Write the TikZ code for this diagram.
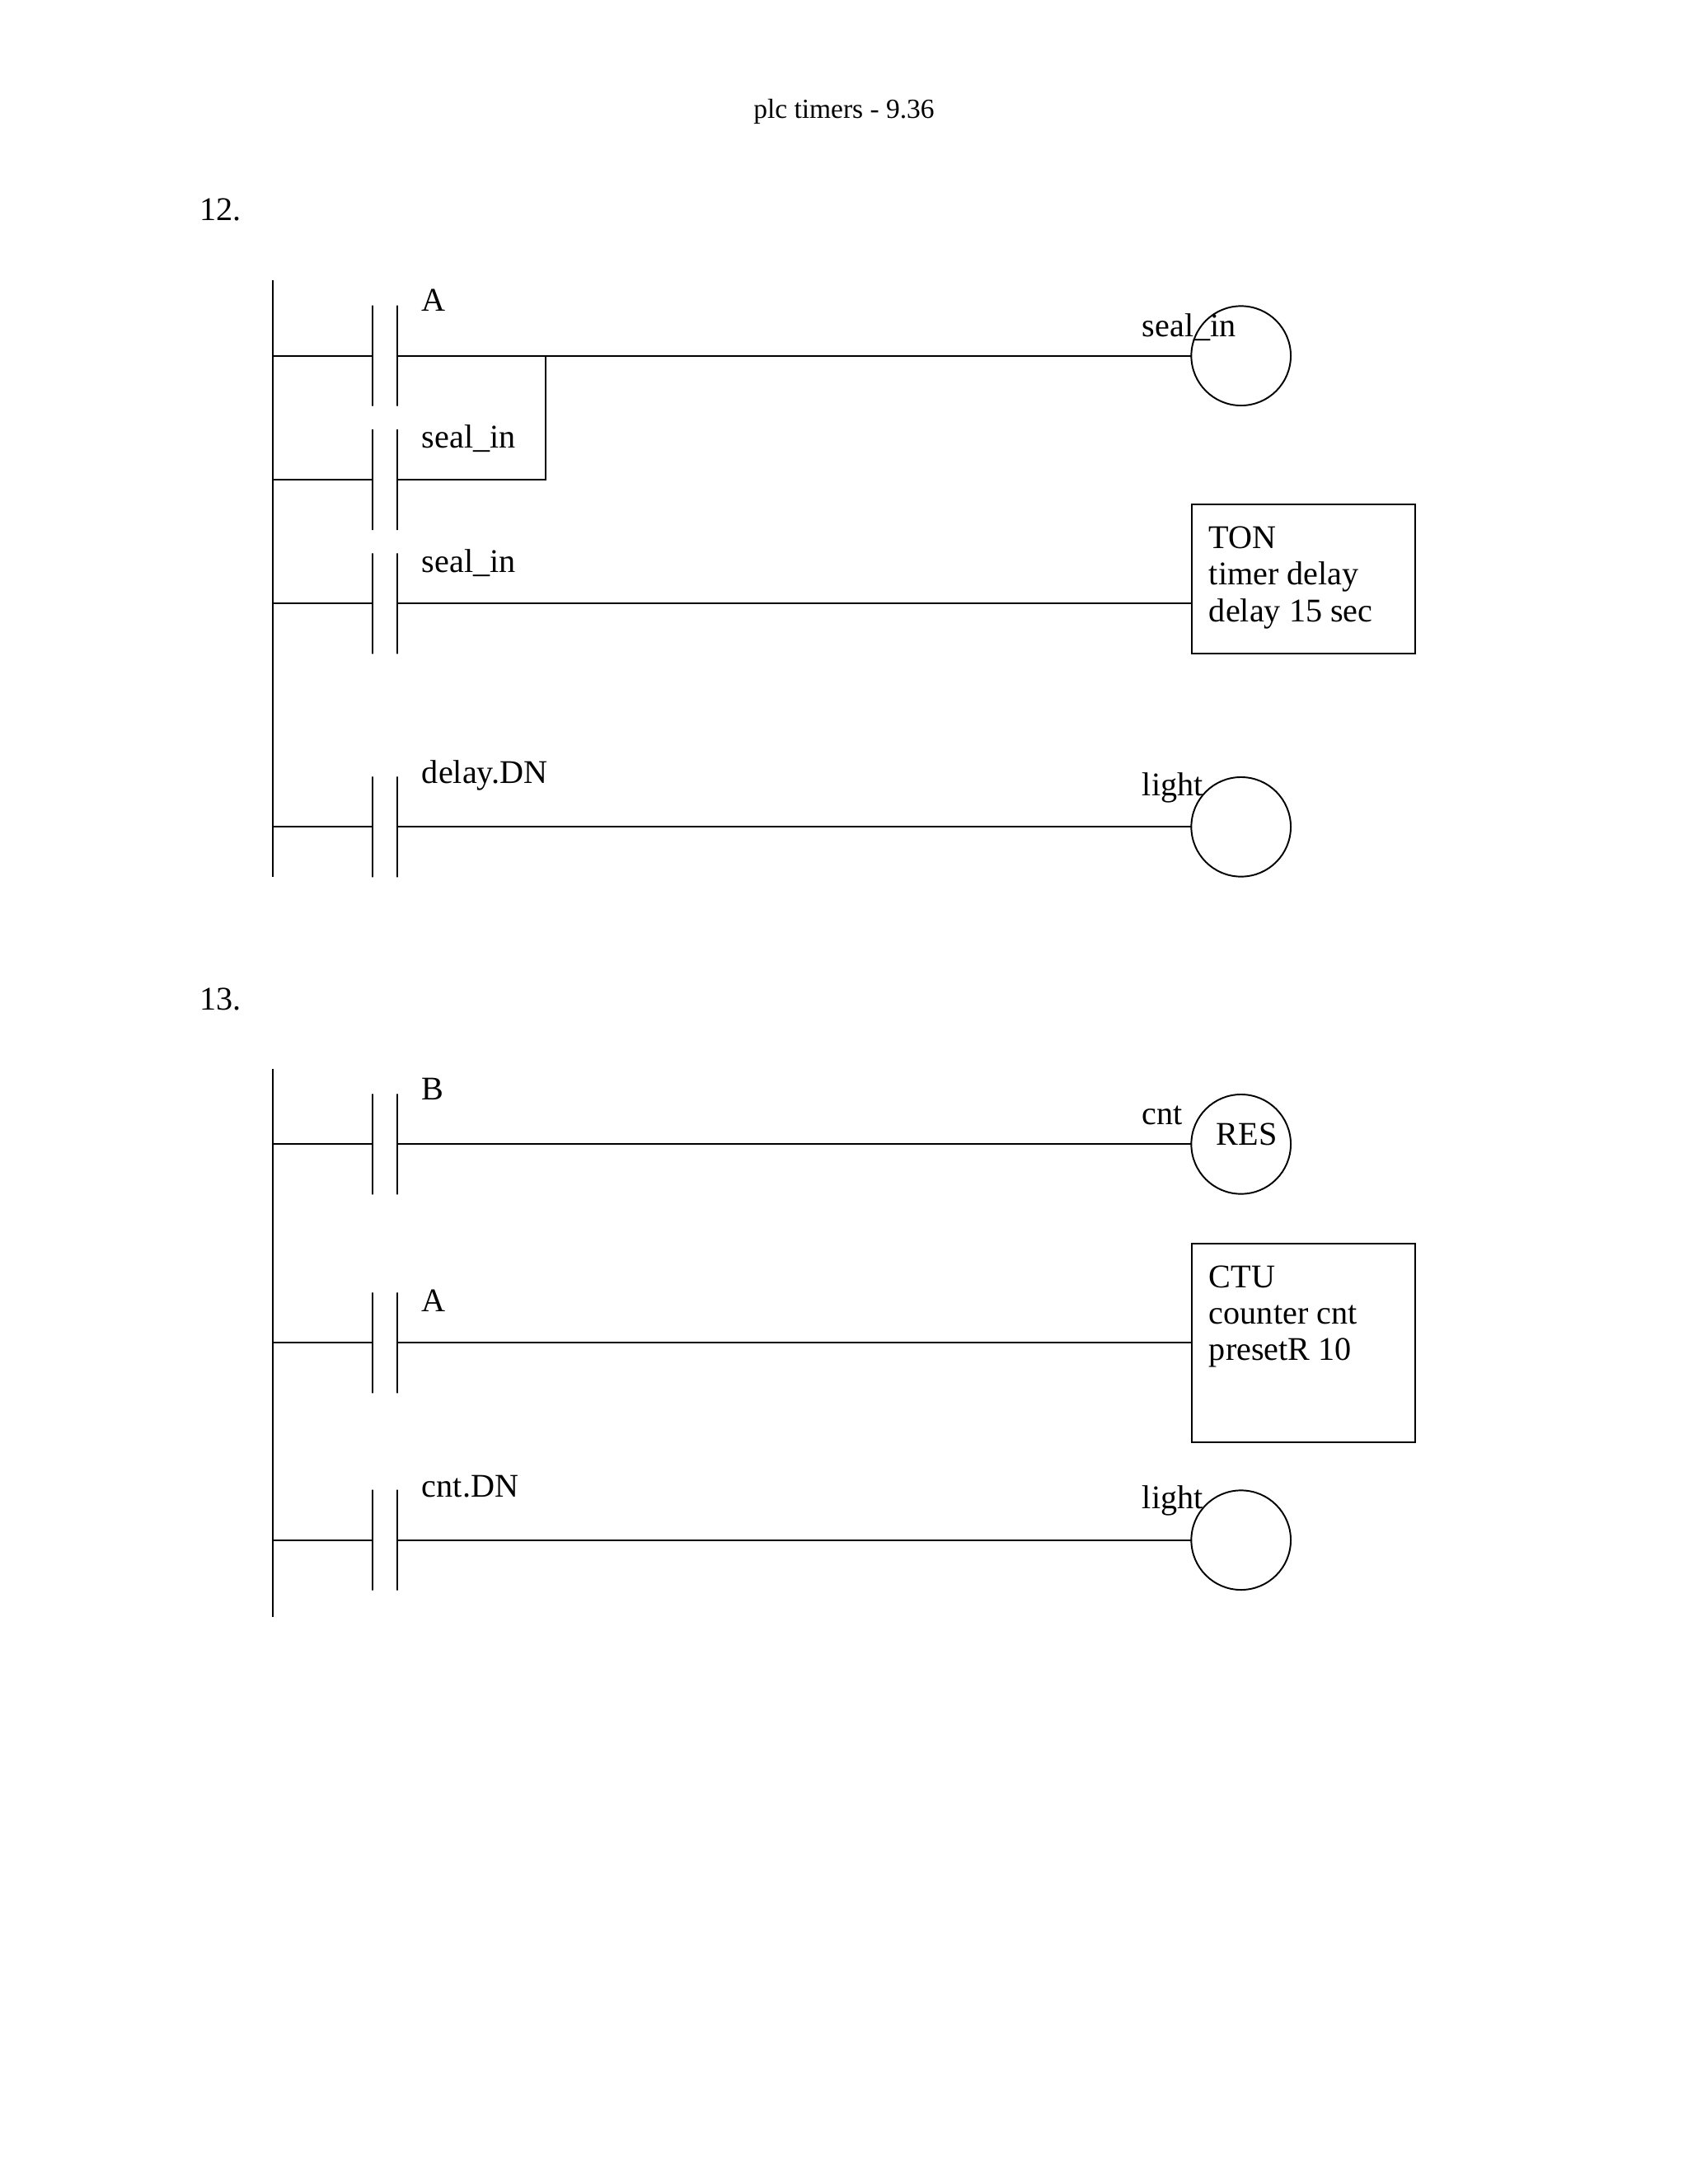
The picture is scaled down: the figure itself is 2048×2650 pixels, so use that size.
\documentclass[tikz,border=0pt]{standalone}
\usepackage{fontspec}
\setmainfont{Liberation Serif}
\usetikzlibrary{positioning}

\tikzset{
  plate/.style={draw,inner sep=0pt,outer sep=0pt,minimum width=0pt,minimum height=36.6pt},
  coil/.style={draw,circle,inner sep=0pt,outer sep=0pt,minimum size=36.2pt},
  block/.style={draw,rectangle,anchor=north west,inner sep=0pt,outer sep=0pt,minimum width=81.3pt},
  tag/.style={anchor=base west,inner sep=0pt,font=\fontsize{12.05}{13.3}\selectfont},
  blocktext/.style={anchor=north west,inner sep=0pt,align=left,font=\fontsize{12.05}{13.3}\selectfont}
}

\begin{document}
\begin{tikzpicture}[x=0.3pt,y=-0.3pt,node distance=9pt,on grid,line width=0.58pt]
    \useasboundingbox (0,0) rectangle (2048,2650);

    \node[anchor=base,inner sep=0pt,font=\fontsize{10.04}{12}\selectfont] (title) at (1024,143) {plc timers - 9.36};
    \node[tag] (q_12) at (241.5,267.3) {12.};
    \node[tag] (q_13) at (241.5,1225) {13.};

    % question 12
    \coordinate (rail_a_top) at (331.2,340);
    \coordinate (rail_a_bot) at (331.2,1064.3);
    \node[plate] (a_l) at (452,431.7) {};
    \node[plate] (a_r) [right=of a_l] {};
    \node[plate] (seal_l) at (452,582) {};
    \node[plate] (seal_r) [right=of seal_l] {};
    \node[plate] (sealb_l) at (452,732.3) {};
    \node[plate] (sealb_r) [right=of sealb_l] {};
    \node[plate] (dn_l) at (452,1003.3) {};
    \node[plate] (dn_r) [right=of dn_l] {};
    \node[coil] (seal_coil) at (1505.7,431.7) {};
    \node[block,minimum height=54.3pt] (ton) at (1445.7,612) {};
    \node[coil] (light_a) at (1505.7,1003.3) {};
    \coordinate (join) at (662.3,431.7);

    \node[tag] (a_tag) at (511,377.3) {A};
    \node[tag] (seal_tag) at (511,543.3) {seal\_in};
    \node[tag] (sealb_tag) at (511,694) {seal\_in};
    \node[tag] (dn_tag) at (511,950) {delay.DN};
    \node[tag] (seal_coil_tag) at (1385,408) {seal\_in};
    \node[tag] (light_a_tag) at (1385,965.5) {light};
    \node[blocktext] (ton_text) at (1466,638) {TON\\timer delay\\delay 15 sec};

    \path
    (rail_a_top) edge (rail_a_bot)
    (rail_a_top |- a_l) edge (a_l)
    (a_r) edge (seal_coil)
    (rail_a_top |- seal_l) edge (seal_l)
    (rail_a_top |- sealb_l) edge (sealb_l)
    (sealb_r) edge (sealb_r -| ton.west)
    (rail_a_top |- dn_l) edge (dn_l)
    (dn_r) edge (light_a);
    \draw (seal_r) -| (join);

    % question 13
    \coordinate (rail_b_top) at (331.2,1297.3);
    \coordinate (rail_b_bot) at (331.2,1961.7);
    \node[plate] (b_l) at (452,1388.3) {};
    \node[plate] (b_r) [right=of b_l] {};
    \node[plate] (ab_l) at (452,1629.3) {};
    \node[plate] (ab_r) [right=of ab_l] {};
    \node[plate] (cnt_l) at (452,1868.7) {};
    \node[plate] (cnt_r) [right=of cnt_l] {};
    \node[coil] (res_coil) at (1505.7,1388.3) {};
    \node[block,minimum height=72.4pt] (ctu) at (1445.7,1508.7) {};
    \node[coil] (light_b) at (1505.7,1868.7) {};

    \node[tag] (b_tag) at (511,1334.5) {B};
    \node[tag] (ab_tag) at (511,1591) {A};
    \node[tag] (cnt_tag) at (511,1816) {cnt.DN};
    \node[tag] (res_coil_tag) at (1385,1364.5) {cnt};
    \node[tag] (res_text) at (1475,1389.5) {RES};
    \node[tag] (light_b_tag) at (1385,1830) {light};
    \node[blocktext] (ctu_text) at (1466,1534.7) {CTU\\counter cnt\\presetR 10};

    \path
    (rail_b_top) edge (rail_b_bot)
    (rail_b_top |- b_l) edge (b_l)
    (b_r) edge (res_coil)
    (rail_b_top |- ab_l) edge (ab_l)
    (ab_r) edge (ab_r -| ctu.west)
    (rail_b_top |- cnt_l) edge (cnt_l)
    (cnt_r) edge (light_b);
\end{tikzpicture}
\end{document}
